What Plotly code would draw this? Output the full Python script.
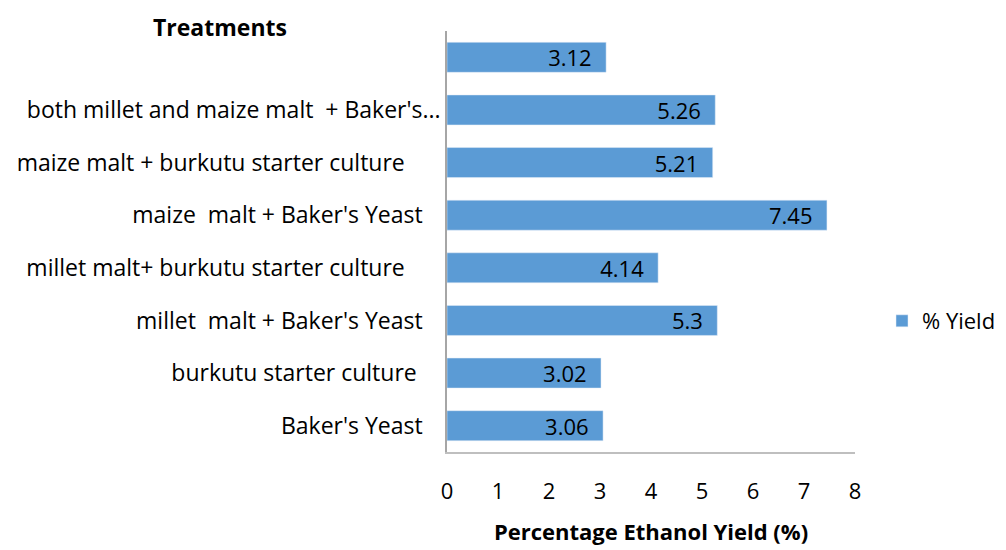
import plotly.graph_objects as go

NB = "\u00a0"
categories = ["Baker's Yeast" + NB * 3, "burkutu starter culture" + NB * 4,
              "millet" + NB + " malt + Baker's Yeast" + NB * 3,
              "millet malt+ burkutu starter culture" + NB * 6,
              "maize" + NB + " malt + Baker's Yeast" + NB * 3,
              "maize malt + burkutu starter culture" + NB * 6,
              "both millet and maize malt" + NB + " + Baker's...",
              NB]
values = [3.06, 3.02, 5.3, 4.14, 7.45, 5.21, 5.26, 3.12]
labels = ["3.06", "3.02", "5.3", "4.14", "7.45", "5.21", "5.26", "3.12"]
x_ticks = [0, 1, 2, 3, 4, 5, 6, 7, 8]

# page body has an 8px margin, so the figure is laid out 8px smaller/shifted
W, H = 998, 542
FONT = "Open Sans"
fig = go.Figure()
fig.add_trace(go.Bar(
    y=categories, x=values, orientation="h", name="% Yield",
    marker=dict(color="#5B9BD5"), width=0.57,
    text=[l + NB * 2 for l in labels], textposition="inside", insidetextanchor="end",
    constraintext="none",
    textfont=dict(family=FONT, size=22, color="black"),
    hoverinfo="x+y", showlegend=True,
))
fig.update_layout(
    width=W, height=H,
    margin=dict(l=439, r=151, t=23, b=98),
    plot_bgcolor="white", paper_bgcolor="white",
    font=dict(family=FONT, size=22, color="black"),
    xaxis=dict(range=[0, 8], tickvals=x_ticks, showgrid=False, zeroline=False, automargin=False,
               showline=True, linecolor="#BFBFBF", linewidth=1.5, ticks="",
               tickfont=dict(size=22), ticklabelstandoff=19,
               title=dict(text="<b>Percentage Ethanol Yield (%)</b>", font=dict(size=22), standoff=20)),
    yaxis=dict(showgrid=False, zeroline=False, showline=True, linecolor="#A6A6A6", linewidth=1.5,
               automargin=False,
               ticks="", tickfont=dict(size=23), ticklabelstandoff=0, categoryorder="array",
               categoryarray=categories),
    legend=dict(xref="container", yref="container", x=874 / W, y=(H - 313) / H,
                xanchor="left", yanchor="middle", font=dict(size=22), itemwidth=30),
    bargap=0.43,
    annotations=[dict(text="<b>Treatments</b>", xref="paper", yref="paper", x=(220 - 447) / 408,
                      y=(452 - 27) / 421, xanchor="center", yanchor="middle", showarrow=False,
                      font=dict(size=23))],
)
fig.write_html("out.html")
